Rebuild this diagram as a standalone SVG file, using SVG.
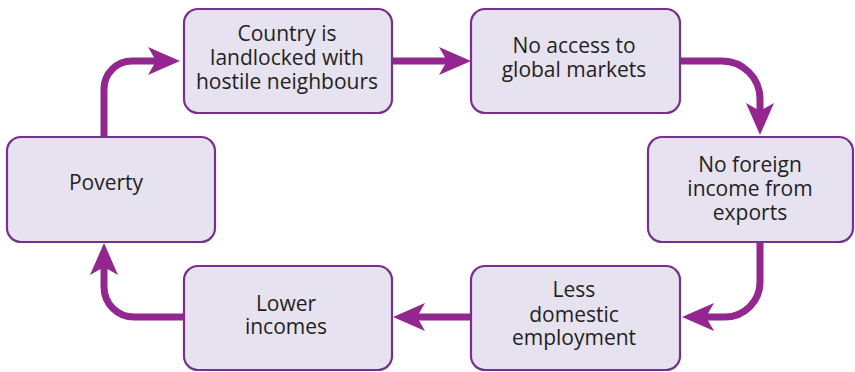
<svg xmlns="http://www.w3.org/2000/svg" width="855" height="372" viewBox="0 0 855 372">
<style>
.box{fill:#e7e2f0;stroke:#7a2e90;stroke-width:2.2}
.t{font-family:"Open Sans","Liberation Sans",sans-serif;font-size:21px;fill:#231f20;text-anchor:middle}
.c{fill:none;stroke:#93278f;stroke-width:7}
</style>
<defs>
<marker id="ah" markerUnits="userSpaceOnUse" markerWidth="34" markerHeight="30" refX="8" refY="14" orient="auto" overflow="visible">
<path d="M0,0 L32,14 L0,28 L8,14 Z" fill="#93278f"/>
</marker>
</defs>
<rect width="855" height="372" fill="#ffffff"/>
<g id="connectors">
<path class="c" d="M392,61 H447" marker-end="url(#ah)"/>
<path class="c" d="M104,137 V89 A28,28 0 0 1 132,61 H156" marker-end="url(#ah)"/>
<path class="c" d="M680,61 H722 A38,38 0 0 1 760,99 V111" marker-end="url(#ah)"/>
<path class="c" d="M760,242 V282 A35,35 0 0 1 725,317 H706" marker-end="url(#ah)"/>
<path class="c" d="M471,317 H417" marker-end="url(#ah)"/>
<path class="c" d="M184,317 H134 A30,30 0 0 1 104,287 V267" marker-end="url(#ah)"/>
</g>
<g id="country">
<rect class="box" x="184" y="9" width="208" height="104" rx="14"/>
<text class="t" x="287" y="41">Country is</text>
<text class="t" x="287" y="65">landlocked with</text>
<text class="t" x="287" y="89">hostile neighbours</text>
</g>
<g id="noaccess">
<rect class="box" x="471" y="9" width="209" height="104" rx="14"/>
<text class="t" x="574" y="53">No access to</text>
<text class="t" x="574" y="77">global markets</text>
</g>
<g id="noforeign">
<rect class="box" x="648" y="137" width="205" height="105" rx="14"/>
<text class="t" x="750" y="172">No foreign</text>
<text class="t" x="750" y="196">income from</text>
<text class="t" x="750" y="220">exports</text>
</g>
<g id="lessdomestic">
<rect class="box" x="471" y="266" width="209" height="104" rx="14"/>
<text class="t" x="574" y="297">Less</text>
<text class="t" x="574" y="322">domestic</text>
<text class="t" x="574" y="345">employment</text>
</g>
<g id="lowerincomes">
<rect class="box" x="184" y="266" width="208" height="104" rx="14"/>
<text class="t" x="286" y="311">Lower</text>
<text class="t" x="286" y="334">incomes</text>
</g>
<g id="poverty">
<rect class="box" x="7" y="137" width="208" height="105" rx="14"/>
<text class="t" x="106" y="190">Poverty</text>
</g>
</svg>
